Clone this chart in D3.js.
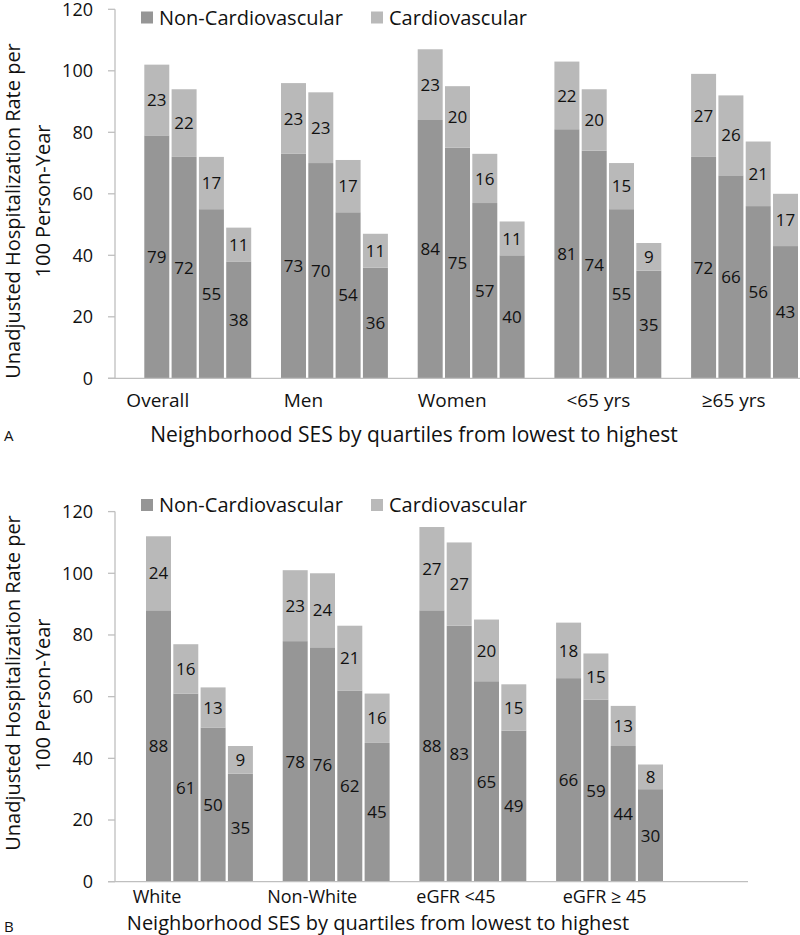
<!DOCTYPE html>
<meta charset="utf-8" />
<script src="https://d3js.org/d3.v7.js"></script>
<style>
  body { margin: 0; background: #fff; }
  text { font-family: "Open Sans", sans-serif; fill: #111; }
</style>
<div id="my_dataviz"></div>
<script>
  // ---- data ----
  const seriesNames = ["Non-Cardiovascular", "Cardiovascular"];
  const tickValues = [0, 20, 40, 60, 80, 100, 120];
  const axisTitleX = "Neighborhood SES by quartiles from lowest to highest";
  const axisTitleY = ["Unadjusted Hospitalization Rate per", "100 Person-Year"];

  const groupsA = ["Overall", "Men", "Women", "<65  yrs", "≥65 yrs"];
  const nonCardioA = [[79, 72, 55, 38], [73, 70, 54, 36], [84, 75, 57, 40], [81, 74, 55, 35], [72, 66, 56, 43]];
  const cardioA = [[23, 22, 17, 11], [23, 23, 17, 11], [23, 20, 16, 11], [22, 20, 15, 9], [27, 26, 21, 17]];

  const groupsB = ["White", "Non-White", "eGFR <45", "eGFR ≥ 45"];
  const nonCardioB = [[88, 61, 50, 35], [78, 76, 62, 45], [88, 83, 65, 49], [66, 59, 44, 30]];
  const cardioB = [[24, 16, 13, 9], [23, 24, 21, 16], [27, 27, 20, 15], [18, 15, 13, 8]];

  const colorNon = "#969696";
  const colorCar = "#b9b9b9";
  const axisColor = "#bfbfbf";

  const width = 800, height = 935;
  const svg = d3.select("#my_dataviz").append("svg")
    .attr("width", width).attr("height", height);

  function drawPanel(opt) {
    const g = svg.append("g");
    const groups = opt.groups;
    const step = 136.7;

    const x0 = d3.scaleBand()
      .domain(groups)
      .range([opt.xStart, opt.xStart + groups.length * step]);
    const x1 = d3.scaleBand()
      .domain([0, 1, 2, 3])
      .range([0, 106.9])
      .paddingInner(0.085);
    const y = d3.scaleLinear().domain([0, 120]).range([opt.y0, opt.y120]);

    // y axis
    g.append("line")
      .attr("x1", 115).attr("x2", 115)
      .attr("y1", y(120)).attr("y2", y(0))
      .attr("stroke", axisColor).attr("stroke-width", 1.3);
    g.selectAll(".tick")
      .data(tickValues)
      .join("line")
      .attr("x1", 108).attr("x2", 115)
      .attr("y1", (d) => y(d)).attr("y2", (d) => y(d))
      .attr("stroke", axisColor).attr("stroke-width", 1.3);
    g.selectAll(".tickLabel")
      .data(tickValues)
      .join("text")
      .attr("x", 93)
      .attr("y", (d) => y(d))
      .attr("dy", "0.36em")
      .attr("text-anchor", "end")
      .style("font-size", "18px")
      .text((d) => d);

    // stacked bars
    const rows = [];
    groups.forEach(function (grp, gi) {
      opt.non[gi].forEach(function (v, bi) {
        rows.push({ group: grp, gi: gi, bi: bi, non: v, car: opt.car[gi][bi] });
      });
    });

    const bars = g.append("g").selectAll("g").data(rows).join("g")
      .attr("transform", (d) => "translate(" + (x0(d.group) + x1(d.bi)) + ",0)");

    bars.append("rect")
      .attr("x", 0)
      .attr("width", x1.bandwidth())
      .attr("y", (d) => y(d.non))
      .attr("height", (d) => y(0) - y(d.non))
      .attr("fill", colorNon);
    bars.append("rect")
      .attr("x", 0)
      .attr("width", x1.bandwidth())
      .attr("y", (d) => y(d.non + d.car))
      .attr("height", (d) => y(d.non) - y(d.non + d.car))
      .attr("fill", colorCar);

    bars.append("text")
      .attr("x", x1.bandwidth() / 2)
      .attr("y", (d) => (y(d.non) + y(d.non + d.car)) / 2)
      .attr("dy", "0.36em")
      .attr("text-anchor", "middle")
      .style("font-size", "17px")
      .text((d) => d.car);
    bars.append("text")
      .attr("x", x1.bandwidth() / 2)
      .attr("y", (d) => (y(0) + y(d.non)) / 2)
      .attr("dy", "0.36em")
      .attr("text-anchor", "middle")
      .style("font-size", "17px")
      .text((d) => d.non);

    // x baseline
    g.append("line")
      .attr("x1", 108).attr("x2", opt.xEnd)
      .attr("y1", y(0)).attr("y2", y(0))
      .attr("stroke", axisColor).attr("stroke-width", 1.3);

    // category labels
    g.selectAll(".cat")
      .data(groups)
      .join("text")
      .attr("x", (d, i) => x0(d) + 53.5 + opt.labelDx[i])
      .attr("y", opt.catY)
      .attr("text-anchor", "middle")
      .style("font-size", opt.catSize)
      .text((d) => d);

    // x title + panel letter
    g.append("text")
      .attr("x", opt.titleX)
      .attr("y", opt.titleY)
      .attr("text-anchor", "middle")
      .style("font-size", opt.titleSize)
      .text(axisTitleX);
    g.append("text")
      .attr("x", 4)
      .attr("y", opt.letterY)
      .style("font-size", "15px")
      .text(opt.letter);

    // y title, two lines
    g.append("text")
      .attr("transform", "translate(20," + opt.yTitleC[0] + ") rotate(-90)")
      .attr("text-anchor", "middle")
      .style("font-size", "20px")
      .text(axisTitleY[0]);
    g.append("text")
      .attr("transform", "translate(50," + opt.yTitleC[1] + ") rotate(-90)")
      .attr("text-anchor", "middle")
      .style("font-size", "20px")
      .text(axisTitleY[1]);

    // legend
    const leg = g.append("g");
    const legX = [141, 371];
    seriesNames.forEach(function (name, i) {
      leg.append("rect")
        .attr("x", legX[i]).attr("y", opt.legY - 6)
        .attr("width", 12).attr("height", 12)
        .attr("fill", i === 0 ? colorNon : colorCar);
      leg.append("text")
        .attr("x", legX[i] + 18).attr("y", opt.legY)
        .attr("dy", "0.36em")
        .style("font-size", "20px")
        .text(name);
    });
  }

  drawPanel({
    groups: groupsA, non: nonCardioA, car: cardioA,
    xStart: 144.3, xEnd: 800, y0: 378.3, y120: 9.3,
    labelDx: [-40, -31, -19, -9.5, -11], catY: 407, catSize: "19px",
    titleX: 414, titleY: 442, titleSize: "21px", letter: "A", letterY: 441,
    yTitleC: [211, 201], legY: 17.5
  });

  drawPanel({
    groups: groupsB, non: nonCardioB, car: cardioB,
    xStart: 146, xEnd: 748, y0: 881.7, y120: 511.6,
    labelDx: [-42.5, -24, -17, -5], catY: 903, catSize: "18px",
    titleX: 378, titleY: 930, titleSize: "20px", letter: "B", letterY: 932,
    yTitleC: [683, 695], legY: 505
  });
</script>
